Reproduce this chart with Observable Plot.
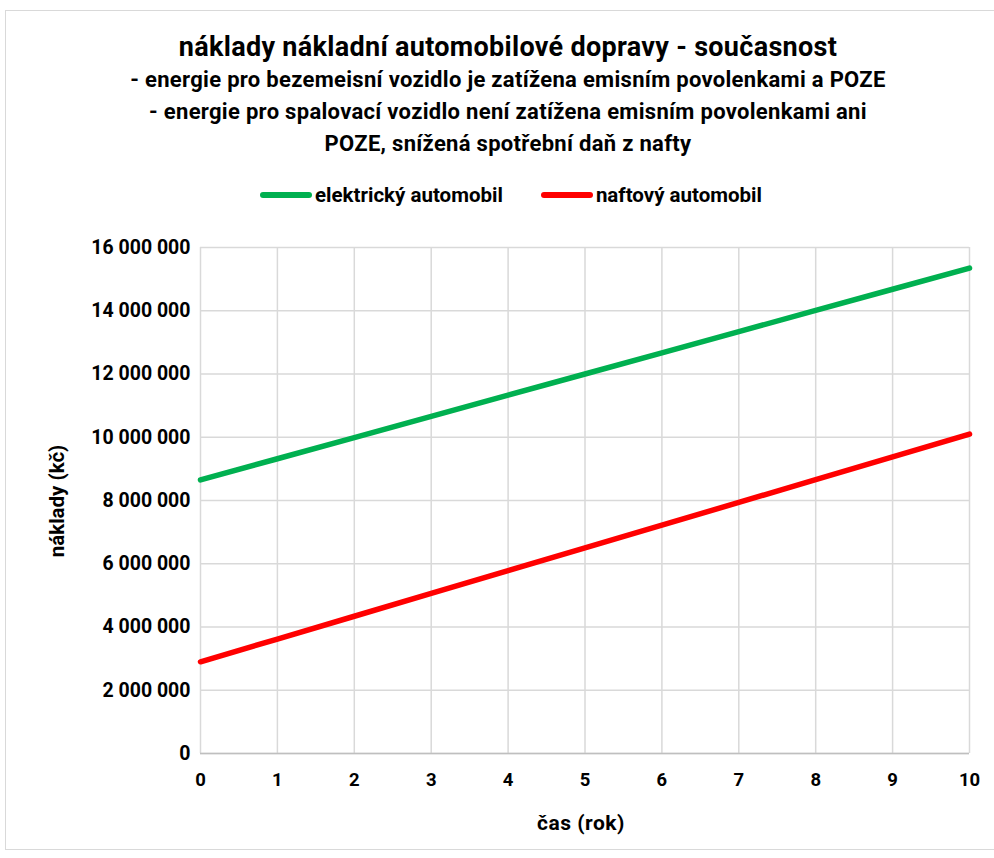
<!DOCTYPE html>
<html>
<head>
<meta charset="utf-8">
<script src="https://cdn.jsdelivr.net/npm/d3@7"></script>
<script src="https://cdn.jsdelivr.net/npm/@observablehq/plot@0.6"></script>
<style>
  html, body { margin: 0; padding: 0; background: #fff; }
  #chart { position: relative; width: 994px; height: 858px; overflow: hidden;
           font-family: "Roboto", sans-serif; font-weight: bold; color: #000; }
  #frame { position: absolute; left: 5px; top: 10px; width: 1000px; height: 840px; border: 1.5px solid #d9d9d9; box-sizing: border-box; }
  .t { position: absolute; left: 0; width: 1016px; text-align: center; white-space: nowrap; }
  #title { top: 31px; font-size: 27px; letter-spacing: 0.3px; }
  .sub { font-size: 22px; letter-spacing: 0.3px; }
  #legend { position: absolute; top: 183px; left: 0; width: 1022px; display: flex; justify-content: center; gap: 38px; font-size: 20.5px; }
  .li { display: flex; align-items: center; gap: 3px; }
  .sw { width: 52px; height: 6px; border-radius: 3px; display: inline-block; }
  #svgwrap { position: absolute; left: 0; top: 230px; }
  #ylabel { position: absolute; left: 57px; top: 501px; transform: translate(-50%, -50%) rotate(-90deg); font-size: 20.5px; white-space: nowrap; }
  #xlabel { position: absolute; left: 581px; top: 823px; transform: translate(-50%, -50%); font-size: 21px; letter-spacing: 0.5px; white-space: nowrap; }
</style>
</head>
<body>
<div id="chart">
  <div id="frame"></div>
  <div class="t" id="title">náklady nákladní automobilové dopravy - současnost</div>
  <div class="t sub" style="top:67px">- energie pro bezemeisní vozidlo je zatížena emisním povolenkami a POZE</div>
  <div class="t sub" style="top:99px">- energie pro spalovací vozidlo není zatížena emisním povolenkami ani</div>
  <div class="t sub" style="top:131px">POZE, snížená spotřební daň z nafty</div>
  <div id="legend"></div>
  <div id="svgwrap"></div>
  <div id="ylabel">náklady (kč)</div>
  <div id="xlabel">čas (rok)</div>
</div>
<script>
const years = [0, 1, 2, 3, 4, 5, 6, 7, 8, 9, 10];
const seriesNames = ["elektrický automobil", "naftový automobil"];
const seriesColors = ["#00b050", "#ff0000"];
const elektricky = [8650000, 9320000, 9990000, 10660000, 11330000, 12000000, 12670000, 13340000, 14010000, 14680000, 15350000];
const naftovy = [2900000, 3620000, 4340000, 5060000, 5780000, 6500000, 7220000, 7940000, 8660000, 9380000, 10100000];
const yTicks = [0, 2000000, 4000000, 6000000, 8000000, 10000000, 12000000, 14000000, 16000000];

const data = [];
years.forEach((yr, i) => {
  data.push({ year: yr, value: elektricky[i], series: seriesNames[0] });
  data.push({ year: yr, value: naftovy[i], series: seriesNames[1] });
});

const fmt = d => d3.format(",")(d).replace(/,/g, " ");
const font = '"Roboto", sans-serif';

const plot = Plot.plot({
  width: 994,
  height: 628,
  marginLeft: 200,
  marginRight: 25,
  marginTop: 17,
  marginBottom: 105,
  style: { fontFamily: font, fontSize: "18px", fontWeight: "bold", color: "#000", background: "transparent" },
  x: { domain: [0, 10], ticks: years, label: null },
  y: { domain: [0, 16000000], ticks: yTicks, label: null },
  color: { domain: seriesNames, range: seriesColors },
  marks: [
    Plot.gridX(years, { stroke: "#d9d9d9", strokeOpacity: 1, strokeWidth: 1.5 }),
    Plot.gridY(yTicks, { stroke: "#d9d9d9", strokeOpacity: 1, strokeWidth: 1.5 }),
    Plot.ruleY([0], { stroke: "#bfbfbf", strokeWidth: 1.5 }),
    Plot.axisX(years, { tickSize: 0, tickPadding: 19, fontSize: 18.5, fontWeight: "bold", label: null }),
    Plot.axisY(yTicks, { tickSize: 0, tickPadding: 10, tickFormat: fmt, fontSize: 19.5, fontWeight: "bold", label: null }),
    Plot.line(data, { x: "year", y: "value", z: "series", stroke: "series", strokeWidth: 5.5 })
  ]
});
document.getElementById("svgwrap").appendChild(plot);

const legend = document.getElementById("legend");
seriesNames.forEach((n, i) => {
  const item = document.createElement("div");
  item.className = "li";
  item.innerHTML = `<span class="sw" style="background:${seriesColors[i]}"></span><span>${n}</span>`;
  legend.appendChild(item);
});
</script>
</body>
</html>
